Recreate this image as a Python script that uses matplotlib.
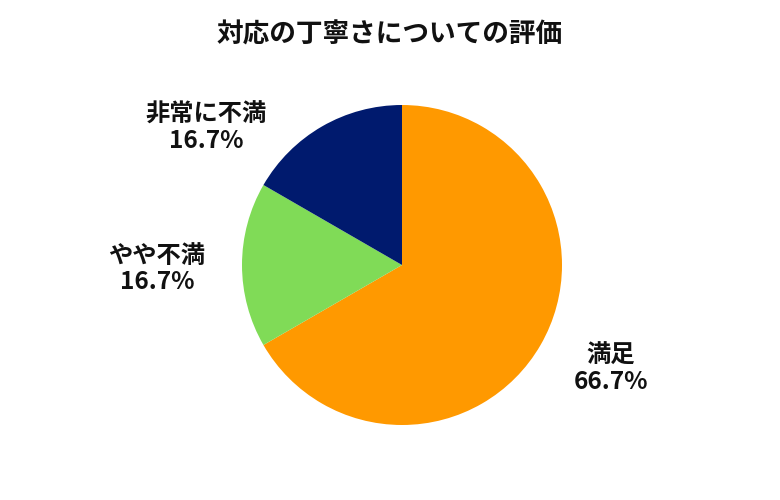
import matplotlib
matplotlib.use("Agg")
import matplotlib.pyplot as plt

plt.rcParams['font.family'] = ['Noto Sans CJK JP', 'DejaVu Sans']

title = "対応の丁寧さについての評価"
categories = ["満足", "やや不満", "非常に不満"]
values = [4, 1, 1]
colors = ["#FF9900", "#80DB57", "#001A6E"]

# label block centres (pixel coords, y from top)
label_pos = [(611, 369), (157, 269), (206, 128)]

W, H = 780, 500
fig = plt.figure(figsize=(W / 100, H / 100), dpi=100)
ax = fig.add_axes([0, 0, 1, 1])
ax.set_xlim(0, W)
ax.set_ylim(0, H)
ax.set_aspect('equal')
ax.axis('off')

cx, cy, r = 402, H - 265, 160
ax.pie(values, colors=colors, startangle=90, counterclock=False,
       center=(cx, cy), radius=r, frame=True,
       wedgeprops=dict(linewidth=0))
ax.set_xlim(0, W)
ax.set_ylim(0, H)
ax.axis('off')

total = sum(values)
for cat, v, (lx, ly) in zip(categories, values, label_pos):
    ax.text(lx, H - ly, f"{cat}\n{v / total * 100:.1f}%", ha='center', va='center',
            fontsize=17.5, fontweight='bold', color='#111111', linespacing=1.1)

ax.text(390, H - 35, title, ha='center', va='center', fontsize=19.2,
        fontweight='bold', color='#111111')

fig.savefig("out.png", dpi=100)
